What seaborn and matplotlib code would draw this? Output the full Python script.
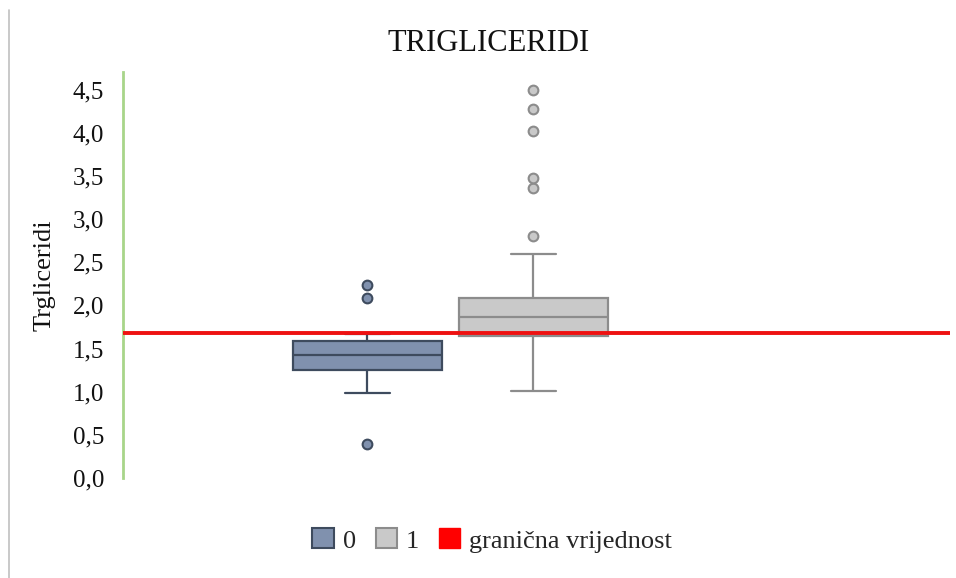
import numpy as np
import pandas as pd
import seaborn as sns
import matplotlib.pyplot as plt
from matplotlib.lines import Line2D
from matplotlib.patches import Patch
from matplotlib.ticker import FuncFormatter

# values (triglycerides per group)
trig_0 = [0.39, 0.98, 1.25, 1.25, 1.42, 1.42, 1.42, 1.59, 1.59, 1.59, 1.67, 2.09, 2.23]
trig_1 = [1.01, 1.64, 1.64, 1.64, 1.64, 1.64, 1.64, 1.64,
          1.87, 1.87, 1.87, 1.87, 1.87, 1.87, 1.87,
          2.09, 2.09, 2.09, 2.09, 2.09, 2.09, 2.09,
          2.60, 2.80, 3.36, 3.48, 4.02, 4.28, 4.50]
groups = ["0", "1"]
threshold = 1.68
y_ticks = [0.0, 0.5, 1.0, 1.5, 2.0, 2.5, 3.0, 3.5, 4.0, 4.5]

fills = {"0": "#8091ae", "1": "#c9c9c9"}
edges = {"0": "#3e4b5e", "1": "#8c8c8c"}

data = pd.DataFrame({
    "grupa": ["0"] * len(trig_0) + ["1"] * len(trig_1),
    "Trgliceridi": trig_0 + trig_1,
})

sns.set_theme(style="white")
plt.rcParams['font.family'] = ['Liberation Serif', 'DejaVu Serif']

fig = plt.figure(figsize=(9.56, 5.78), dpi=100)
ax = fig.add_axes([0.129, 0.173, 0.865, 0.702])

for g in groups:
    sns.boxplot(data=data[data["grupa"] == g], x="grupa", y="Trgliceridi", order=groups,
                color=fills[g], linecolor=edges[g], linewidth=1.6, width=0.9, whis=1.45,
                saturation=1, capwidths=0.27, ax=ax,
                flierprops=dict(marker="o", markersize=7, markerfacecolor=fills[g],
                                markeredgecolor=edges[g], markeredgewidth=1.5))

ax.axhline(threshold, color="#ee1111", linewidth=2.8, zorder=5)

ax.set_xlim(-1.47, 3.51)
ax.set_ylim(0, 4.7)
ax.set_yticks(y_ticks)
ax.yaxis.set_major_formatter(FuncFormatter(lambda v, p: f"{v:.1f}".replace(".", ",")))
ax.set_xticks([])
ax.set_xlabel("")
ax.set_ylabel("Trgliceridi", fontsize=19, color="#111111", labelpad=12)
ax.tick_params(axis="y", labelsize=18, labelcolor="#111111", length=0, pad=14)

for side in ["top", "right", "bottom"]:
    ax.spines[side].set_visible(False)
ax.spines["left"].set_color("#a8d58a")
ax.spines["left"].set_linewidth(2)

fig.text(0.511, 0.925, "TRIGLICERIDI", ha="center", va="center", fontsize=22, color="#111111")

handles = [
    Patch(facecolor=fills["0"], edgecolor=edges["0"], linewidth=1.5, label="0"),
    Patch(facecolor=fills["1"], edgecolor=edges["1"], linewidth=1.5, label="1"),
    Patch(facecolor="#ff0000", edgecolor="#ff0000", label="granična vrijednost"),
]
fig.legend(handles=handles, loc="center", bbox_to_anchor=(0.515, 0.065), ncol=3, frameon=False,
           fontsize=19, handlelength=0.8, handleheight=0.8, handletextpad=0.35, columnspacing=0.75)

fig.add_artist(Line2D([0.0095, 0.0095], [0.0, 0.983], color="#c0c0c0", linewidth=1.2))

fig.savefig("out.png", dpi=100)
